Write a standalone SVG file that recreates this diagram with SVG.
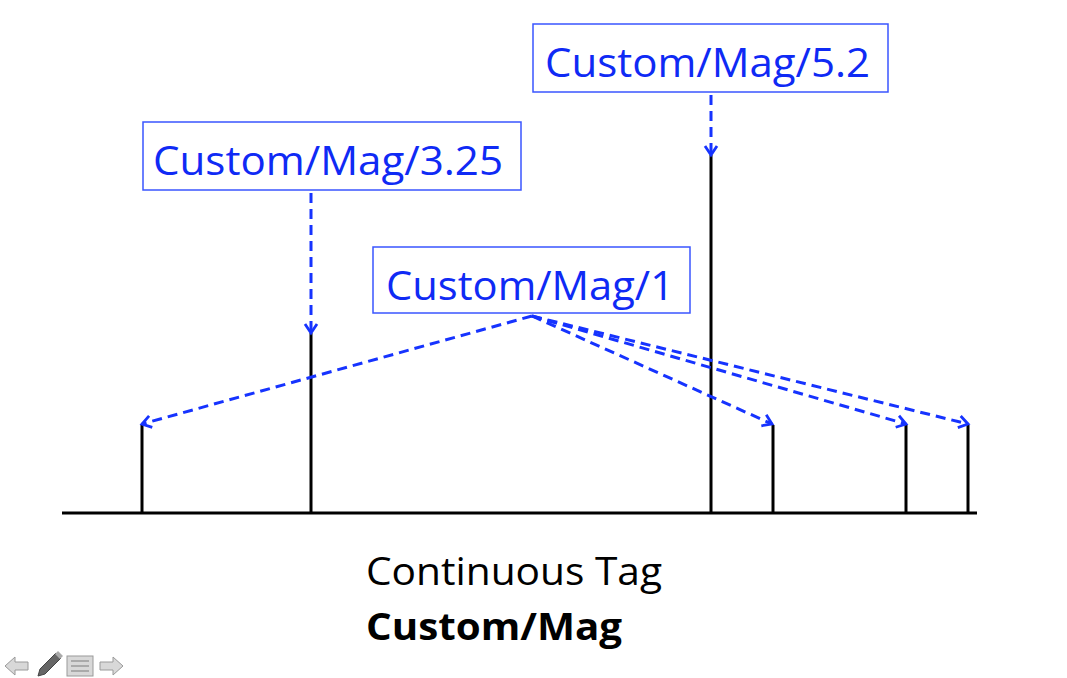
<svg xmlns="http://www.w3.org/2000/svg" width="1067" height="678" viewBox="0 0 1067 678">
<style>
.box{fill:#fff;stroke:#3a55ff;stroke-width:1.5}
.lbl{font-family:"Open Sans","Liberation Sans",Arial,sans-serif;font-size:40px;fill:#0f2af5}
.spike{stroke:#000;stroke-width:3;fill:none}
.con{stroke:#1633ff;stroke-width:3;stroke-dasharray:10 6;fill:none}
.cap{font-family:"Open Sans","Liberation Sans",Arial,sans-serif;font-size:38px;fill:#000}
.icon{fill:#d8d8d8;stroke:#9a9a9a;stroke-width:1}
</style>
<defs>
<marker id="ah" markerWidth="16" markerHeight="16" refX="12" refY="8" orient="auto" markerUnits="userSpaceOnUse">
<path d="M3,2 L12,8 L3,14" fill="none" stroke="#1633ff" stroke-width="2.8"/>
</marker>
</defs>
<rect width="1067" height="678" fill="#fff"/>
<g id="axis">
<line class="spike" x1="62" y1="513" x2="977" y2="513"/>
<line class="spike" x1="142" y1="513" x2="142" y2="425"/>
<line class="spike" x1="311" y1="513" x2="311" y2="333"/>
<line class="spike" x1="711" y1="513" x2="711" y2="155"/>
<line class="spike" x1="773" y1="513" x2="773" y2="425"/>
<line class="spike" x1="906" y1="513" x2="906" y2="425"/>
<line class="spike" x1="968" y1="513" x2="968" y2="425"/>
</g>
<g id="connectors">
<line class="con" x1="711" y1="95" x2="711" y2="155" marker-end="url(#ah)"/>
<line class="con" x1="311" y1="193" x2="311" y2="333" marker-end="url(#ah)"/>
<line class="con" x1="532" y1="316" x2="142" y2="424" marker-end="url(#ah)"/>
<line class="con" x1="532" y1="316" x2="772" y2="424" marker-end="url(#ah)"/>
<line class="con" x1="532" y1="316" x2="906" y2="424" marker-end="url(#ah)"/>
<line class="con" x1="532" y1="316" x2="968" y2="424" marker-end="url(#ah)"/>
</g>
<g id="n52">
<rect class="box" x="533" y="24" width="355" height="68"/>
<text class="lbl" x="545" y="77" textLength="325" lengthAdjust="spacingAndGlyphs">Custom/Mag/5.2</text>
</g>
<g id="n325">
<rect class="box" x="143" y="122" width="378" height="68"/>
<text class="lbl" x="153" y="175" textLength="350" lengthAdjust="spacingAndGlyphs">Custom/Mag/3.25</text>
</g>
<g id="n1">
<rect class="box" x="373" y="247" width="317" height="66"/>
<text class="lbl" x="386" y="300" textLength="288" lengthAdjust="spacingAndGlyphs">Custom/Mag/1</text>
</g>
<g id="caption">
<text class="cap" x="366" y="585" textLength="296" lengthAdjust="spacingAndGlyphs">Continuous Tag</text>
<text class="cap" x="366" y="640" font-weight="bold" textLength="256" lengthAdjust="spacingAndGlyphs">Custom/Mag</text>
</g>
<g id="nav">
<path class="icon" d="M5,666 L15,657 L15,662 L28,662 L28,670 L15,670 L15,675 Z"/>
<path d="M38,676 L40,669 L56,653 L61,658 L45,674 Z" fill="#666" stroke="#444" stroke-width="1"/>
<path d="M55,654 L58,651 L63,656 L60,659 Z" fill="#aaa"/>
<rect class="icon" x="67" y="656" width="26" height="20" fill="#efefef"/>
<line x1="71" y1="661" x2="89" y2="661" stroke="#aaa" stroke-width="2"/>
<line x1="71" y1="666" x2="89" y2="666" stroke="#aaa" stroke-width="2"/>
<line x1="71" y1="671" x2="89" y2="671" stroke="#aaa" stroke-width="2"/>
<path class="icon" d="M123,666 L113,657 L113,662 L100,662 L100,670 L113,670 L113,675 Z"/>
</g>
</svg>
